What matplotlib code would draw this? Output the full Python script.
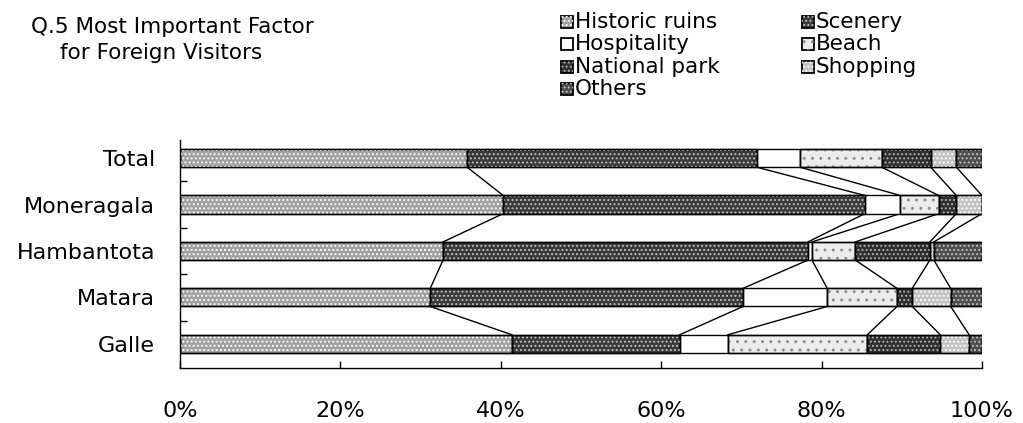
import matplotlib
matplotlib.use('Agg')
import matplotlib.pyplot as plt
from matplotlib.patches import Rectangle
import numpy as np

plt.rcParams['font.family'] = ['DejaVu Sans']
plt.rcParams['hatch.linewidth'] = 0.9

# Share of visitors (%) naming each factor, per area
areas = ['Total', 'Moneragala', 'Hambantota', 'Matara', 'Galle']
factors = ['Historic ruins', 'Scenery', 'Hospitality', 'Beach',
           'National park', 'Shopping', 'Others']
historic_ruins = [35.8, 40.3, 32.8, 31.2, 41.4]
scenery = [36.1, 45.1, 45.5, 39.0, 20.9]
hospitality = [5.4, 4.4, 0.5, 10.5, 6.0]
beach = [10.2, 4.8, 5.4, 8.7, 17.4]
national_park = [6.1, 2.2, 9.3, 1.9, 9.1]
shopping = [3.2, 3.2, 0.5, 4.8, 3.6]
others = [3.2, 0.0, 6.0, 3.9, 1.6]
x_ticks = [0, 20, 40, 60, 80, 100]

series = [historic_ruins, scenery, hospitality, beach, national_park, shopping, others]

# grey fill + stipple colour for each factor
fills = ['#a2a2a2', '#3a3a3a', '#ffffff', '#ececec', '#303030', '#c4c4c4', '#4e4e4e']
stipple = ['white', '#c0c0c0', None, '#8a8a8a', '#b0b0b0', 'white', '#c0c0c0']
hatches = ['....', '....', None, '..', '....', '....', '....']

fig = plt.figure(figsize=(10.23, 4.23), dpi=100)
ax = fig.add_axes([180 / 1023, 1 - 368 / 423, 802 / 1023, 228 / 423])

y = np.arange(len(areas))
bar_h = 0.39
left = np.zeros(len(areas))
for vals, fc, sc, ht in zip(series, fills, stipple, hatches):
    vals = np.array(vals)
    ax.barh(y, vals, left=left, height=bar_h, color=fc, edgecolor='black',
            linewidth=1.0, zorder=2)
    if ht:
        ax.barh(y, vals, left=left, height=bar_h, color='none', edgecolor=sc,
                hatch=ht, linewidth=0, zorder=3)
        ax.barh(y, vals, left=left, height=bar_h, color='none', edgecolor='black',
                linewidth=1.0, zorder=4)
    left = left + vals

# connector lines between matching boundaries of neighbouring bars
cum = np.cumsum(np.array(series), axis=0)
for i in range(len(areas) - 1):
    for k in range(len(series) - 1):
        ax.plot([cum[k][i], cum[k][i + 1]],
                [y[i] + bar_h / 2, y[i + 1] - bar_h / 2],
                color='black', linewidth=1.0, zorder=1)

ax.set_xlim(0, 100)
ax.set_ylim(len(areas) - 1 + 0.52, -0.39)
ax.set_xticks(x_ticks)
ax.set_xticklabels([f'{t}%' for t in x_ticks], fontsize=16)
ax.tick_params(axis='x', direction='in', length=5, pad=24, width=1)
ax.set_yticks(y)
ax.set_yticklabels(areas, fontsize=16)
ax.tick_params(axis='y', length=0, pad=18)
ax.set_yticks(y[:-1] + 0.5, minor=True)
ax.tick_params(axis='y', which='minor', direction='in', length=5, width=1)
for side in ['top', 'right']:
    ax.spines[side].set_visible(False)
ax.spines['left'].set_linewidth(1)
ax.spines['bottom'].set_linewidth(1)

# title
fig.text(172 / 1023, 1 - 27 / 423, 'Q.5 Most Important Factor', ha='center',
         va='center', fontsize=15.5)
fig.text(161 / 1023, 1 - 53 / 423, 'for Foreign Visitors', ha='center',
         va='center', fontsize=15.5)

# legend: two columns laid out by hand
legend_cols = [[0, 2, 4, 6], [1, 3, 5]]
col_x = [561, 802]
row_y = [22, 44, 67, 89]
for cx, idxs in zip(col_x, legend_cols):
    for r, k in enumerate(idxs):
        cy = row_y[r]
        sz = 12
        box = ((cx / 1023, (423 - cy - sz / 2) / 423), sz / 1023, sz / 423)
        fig.patches.append(Rectangle(*box, transform=fig.transFigure,
                                     facecolor=fills[k], edgecolor='black',
                                     linewidth=1.3, figure=fig))
        if hatches[k]:
            fig.patches.append(Rectangle(*box, transform=fig.transFigure,
                                         facecolor='none', edgecolor=stipple[k],
                                         hatch=hatches[k], linewidth=0, figure=fig))
        fig.text((cx + 14) / 1023, 1 - cy / 423, factors[k], ha='left',
                 va='center', fontsize=15.5)

fig.savefig('out.png', dpi=100)
